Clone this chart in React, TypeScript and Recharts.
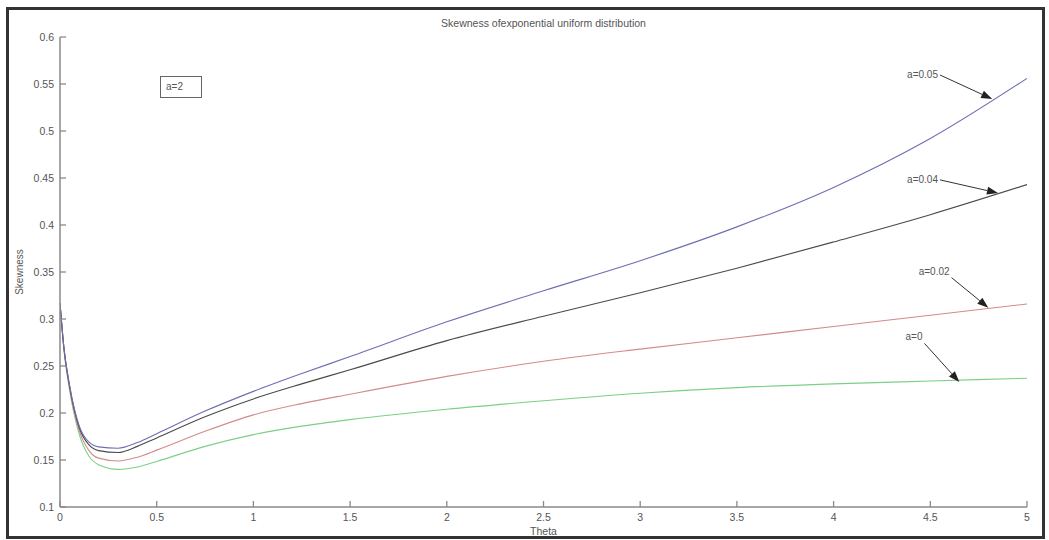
import React from 'react';
import { LineChart, Line, XAxis, YAxis, ReferenceLine } from 'recharts';

const theta = [0, 0.02, 0.05, 0.1, 0.15, 0.2, 0.3, 0.4, 0.5, 0.75, 1, 1.25, 1.5, 2, 2.5, 3, 3.5, 4, 4.5, 5];
const skewA005 = [0.317, 0.270, 0.229, 0.186, 0.169, 0.164, 0.1625, 0.1685, 0.178, 0.202, 0.223, 0.242, 0.260, 0.297, 0.330, 0.362, 0.398, 0.440, 0.492, 0.556];
const skewA004 = [0.317, 0.270, 0.228, 0.184, 0.166, 0.160, 0.158, 0.1645, 0.1735, 0.196, 0.215, 0.231, 0.246, 0.277, 0.303, 0.328, 0.354, 0.382, 0.411, 0.443];
const skewA002 = [0.317, 0.269, 0.226, 0.181, 0.160, 0.152, 0.149, 0.153, 0.1605, 0.1805, 0.198, 0.210, 0.220, 0.239, 0.255, 0.268, 0.280, 0.292, 0.304, 0.316];
const skewA000 = [0.317, 0.268, 0.224, 0.177, 0.154, 0.145, 0.140, 0.1425, 0.1485, 0.1645, 0.177, 0.186, 0.193, 0.204, 0.213, 0.221, 0.227, 0.231, 0.234, 0.237];

const xTicks = [0, 0.5, 1, 1.5, 2, 2.5, 3, 3.5, 4, 4.5, 5];
const yTicks = [0.1, 0.15, 0.2, 0.25, 0.3, 0.35, 0.4, 0.45, 0.5, 0.55, 0.6];

const annLabels = ['a=0.05', 'a=0.04', 'a=0.02', 'a=0'];
const annFromX = [4.55, 4.55, 4.61, 4.47];
const annFromY = [0.5596, 0.448, 0.344, 0.274];
const annToX = [4.82, 4.85, 4.8, 4.65];
const annToY = [0.534, 0.434, 0.312, 0.233];
const annTextDy = [0, 0, -6, -7];

const data = theta.map((t, i) => ({
  theta: t,
  a005: skewA005[i],
  a004: skewA004[i],
  a002: skewA002[i],
  a000: skewA000[i],
}));

const FONT = '"Liberation Sans", Arial, sans-serif';
const TXT = '#555';
const AXIS = '#8a8a8a';

const XTick = (props: any) => {
  const { x, y, payload } = props;
  return (
    <g>
      <line x1={x} y1={y} x2={x} y2={y - 6} stroke={AXIS} strokeWidth={1.3} />
      <text x={x} y={y + 14} textAnchor="middle" fontSize={10.5} fill={TXT} fontFamily={FONT}>
        {String(payload.value)}
      </text>
    </g>
  );
};

const YTick = (props: any) => {
  const { x, y, payload } = props;
  return (
    <g>
      <line x1={x} y1={y} x2={x + 6} y2={y} stroke={AXIS} strokeWidth={1.3} />
      <text x={x - 6} y={y} dy="0.35em" textAnchor="end" fontSize={10.5} fill={TXT} fontFamily={FONT}>
        {String(payload.value)}
      </text>
    </g>
  );
};

const makeArrow = (label: string, dy: number) => (p: any) => {
  const { x1, y1, x2, y2 } = p;
  const ang = Math.atan2(y2 - y1, x2 - x1);
  const len = 11;
  const hw = 4;
  const bx = x2 - len * Math.cos(ang);
  const by = y2 - len * Math.sin(ang);
  const px = -Math.sin(ang) * hw;
  const py = Math.cos(ang) * hw;
  return (
    <g>
      <line x1={x1} y1={y1} x2={bx} y2={by} stroke="#333" strokeWidth={1} />
      <polygon points={`${x2},${y2} ${bx + px},${by + py} ${bx - px},${by - py}`} fill="#222" />
      <text x={x1 - 2} y={y1 + dy} dy="0.35em" textAnchor="end" fontSize={10} fill={TXT} fontFamily={FONT}>
        {label}
      </text>
    </g>
  );
};

export default function App() {
  return (
    <div style={{ position: 'absolute', left: 0, top: 0, width: 1049, height: 540, background: '#fff', fontFamily: FONT }}>
      <div
        style={{
          position: 'absolute',
          left: 6,
          top: 7,
          width: 1039,
          height: 532,
          border: '3px solid #333',
          boxSizing: 'border-box',
        }}
      />
      <LineChart
        width={1049}
        height={540}
        data={data}
        margin={{ top: 37, right: 22, bottom: 5, left: 8 }}
        style={{ position: 'absolute', left: 0, top: 0 }}
      >
        <XAxis
          dataKey="theta"
          type="number"
          domain={[0, 5]}
          ticks={xTicks}
          tickSize={0}
          tickMargin={0}
          height={28}
          tick={<XTick />}
          axisLine={{ stroke: AXIS, strokeWidth: 1.5 }}
          tickLine={false}
          allowDataOverflow
        />
        <YAxis
          type="number"
          domain={[0.1, 0.6]}
          ticks={yTicks}
          tickSize={0}
          tickMargin={0}
          width={52}
          tick={<YTick />}
          axisLine={{ stroke: AXIS, strokeWidth: 1.5 }}
          tickLine={false}
          allowDataOverflow
        />
        <Line type="monotone" dataKey="a000" stroke="#7ccf88" strokeWidth={1.1} dot={false} isAnimationActive={false} />
        <Line type="monotone" dataKey="a002" stroke="#d48a8a" strokeWidth={1.1} dot={false} isAnimationActive={false} />
        <Line type="monotone" dataKey="a004" stroke="#4a4a4a" strokeWidth={1.1} dot={false} isAnimationActive={false} />
        <Line type="monotone" dataKey="a005" stroke="#6e6eb4" strokeWidth={1.1} dot={false} isAnimationActive={false} />
        {annLabels.map((lab, i) => (
          <ReferenceLine
            key={lab}
            segment={[
              { x: annFromX[i], y: annFromY[i] },
              { x: annToX[i], y: annToY[i] },
            ]}
            stroke="#333"
            shape={makeArrow(lab, annTextDy[i])}
          />
        ))}
      </LineChart>
      <div
        style={{
          position: 'absolute',
          left: 60,
          width: 967,
          top: 16,
          textAlign: 'center',
          fontSize: 10.5,
          lineHeight: '14px',
          color: TXT,
        }}
      >
        Skewness ofexponential uniform distribution
      </div>
      <div
        style={{
          position: 'absolute',
          left: 60,
          width: 967,
          top: 524,
          textAlign: 'center',
          fontSize: 10.5,
          lineHeight: '14px',
          color: TXT,
        }}
      >
        Theta
      </div>
      <div
        style={{
          position: 'absolute',
          left: 20 - 40,
          top: 272 - 7,
          width: 80,
          textAlign: 'center',
          fontSize: 10,
          lineHeight: '14px',
          color: TXT,
          transform: 'rotate(-90deg)',
        }}
      >
        Skewness
      </div>
      <div
        style={{
          position: 'absolute',
          left: 160,
          top: 76,
          width: 42,
          height: 22,
          border: '1px solid #666',
          boxSizing: 'border-box',
          fontSize: 10,
          lineHeight: '20px',
          paddingLeft: 5,
          color: TXT,
        }}
      >
        a=2
      </div>
    </div>
  );
}
